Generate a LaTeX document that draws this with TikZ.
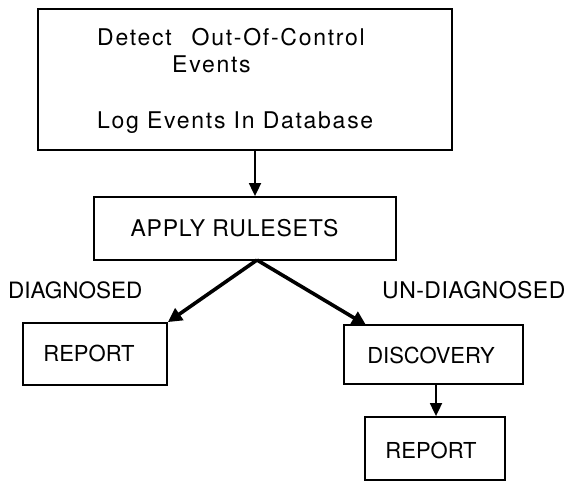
\documentclass[tikz,border=0pt]{standalone}
\usepackage{fontspec}
\setmainfont{TeX Gyre Heros}
\usetikzlibrary{arrows.meta}
\tikzset{
  box/.style={draw, line width=1.8pt, rectangle, inner sep=0pt},
  bigbox/.style={draw, line width=2.6pt, rectangle, inner sep=0pt},
  lbl/.style={inner sep=0pt, font=\fontsize{22}{26}\selectfont},
  toplbl/.style={inner sep=0pt, font=\fontsize{23}{27}\selectfont\addfontfeatures{LetterSpace=7.5}},
  widelbl/.style={inner sep=0pt, font=\fontsize{23}{27}\selectfont\addfontfeatures{LetterSpace=3.5}},
  thinarrow/.style={line width=1.8pt, -{Triangle[length=13pt,width=12pt]}},
  thickarrow/.style={line width=3.6pt, -{Triangle[length=14pt,width=14pt]}}
}
\begin{document}
\begin{tikzpicture}[x=1pt,y=-1pt]
\useasboundingbox (0,0) rectangle (564,482);
% boxes
\node[bigbox, minimum width=414pt, minimum height=141pt] (top) at (245,79.5) {};
\node[box, minimum width=302pt, minimum height=63pt] (apply) at (245,228.5) {};
\node[box, minimum width=144pt, minimum height=62pt] (rep1) at (95,354) {};
\node[box, minimum width=179pt, minimum height=59pt] (disc) at (433.5,354.5) {};
\node[box, minimum width=140pt, minimum height=63pt] (rep2) at (435,448.5) {};
% texts
\node[toplbl, anchor=base west] (t1) at (97,45) {Detect\hspace{20pt}Out-Of-Control};
\node[toplbl, anchor=base west] (t2) at (172,72) {Events};
\node[toplbl, anchor=base west] (t3) at (97,128) {Log Events In Database};
\node[widelbl] (applyt) at (234.5,228.5) {APPLY RULESETS};
\node[lbl] (rep1t) at (89,353) {REPORT};
\node[lbl] (disct) at (431,355) {DISCOVERY};
\node[lbl] (rep2t) at (431,450) {REPORT};
\node[lbl, anchor=west, font=\fontsize{22.5}{26}\selectfont] (diag) at (8,290) {DIAGNOSED};
\node[lbl, anchor=west, font=\fontsize{23}{27}\selectfont\addfontfeatures{LetterSpace=2}] (undiag) at (382,290) {UN-DIAGNOSED};
% connector helpers
\coordinate (ax) at (255,0);
\coordinate (split) at (257,260);
\coordinate (dx) at (436,0);
\coordinate (discin) at (366,325);
% connectors
\draw[thinarrow] (top.south -| ax) -- (apply.north -| ax);
\draw[thickarrow] (split) -- (rep1.north east);
\draw[thickarrow] (split) -- (discin);
\draw[thinarrow] (disc.south -| dx) -- (rep2.north -| dx);
\end{tikzpicture}
\end{document}
